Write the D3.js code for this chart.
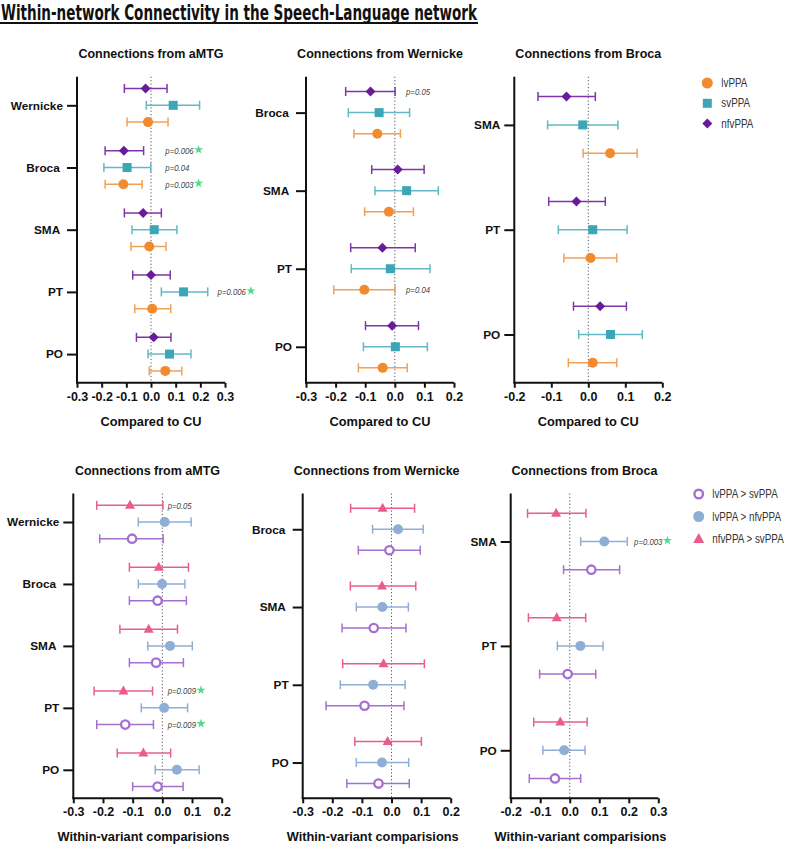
<!DOCTYPE html>
<html><head><meta charset="utf-8">
<script src="https://cdn.jsdelivr.net/npm/d3@7"></script>
<style>
body{margin:0;background:#fff;}
svg{display:block;}
text{font-family:"Liberation Sans",Arial,sans-serif;}
</style></head>
<body><svg id="c" width="788" height="846"></svg>
<script>
// ---------- DATA ----------
const topSeries = ["lvPPA","svPPA","nfvPPA"];
const bottomSeries = ["lvPPA > svPPA","lvPPA > nfvPPA","nfvPPA > svPPA"];

const aMTG_cats = ["Wernicke","Broca ","SMA ","PT","PO"];
const wern_cats = ["Broca ","SMA ","PT","PO"];
const broca_cats = ["SMA","PT","PO"];

// each entry: [mean, lower, upper]
const top_aMTG_lvPPA  = [[-0.012,-0.097,0.069],[-0.112,-0.186,-0.036],[-0.007,-0.081,0.061],[0.005,-0.066,0.080],[0.058,-0.007,0.125]];
const top_aMTG_svPPA  = [[0.090,-0.019,0.197],[-0.097,-0.191,-0.001],[0.013,-0.077,0.105],[0.132,0.042,0.230],[0.075,-0.012,0.162]];
const top_aMTG_nfvPPA = [[-0.022,-0.108,0.065],[-0.110,-0.186,-0.030],[-0.032,-0.108,0.042],[0.000,-0.074,0.078],[0.011,-0.059,0.081]];

const top_wern_lvPPA  = [[-0.059,-0.138,0.019],[-0.020,-0.102,0.063],[-0.103,-0.206,0.001],[-0.041,-0.123,0.042]];
const top_wern_svPPA  = [[-0.053,-0.157,0.050],[0.040,-0.067,0.147],[-0.015,-0.147,0.119],[0.002,-0.106,0.110]];
const top_wern_nfvPPA = [[-0.082,-0.166,0.001],[0.010,-0.078,0.099],[-0.042,-0.149,0.069],[-0.009,-0.099,0.080]];

const top_broca_lvPPA  = [[0.059,-0.014,0.132],[0.006,-0.066,0.077],[0.012,-0.054,0.077]];
const top_broca_svPPA  = [[-0.015,-0.110,0.080],[0.012,-0.081,0.105],[0.060,-0.026,0.146]];
const top_broca_nfvPPA = [[-0.059,-0.136,0.019],[-0.032,-0.107,0.046],[0.032,-0.040,0.103]];

const bot_aMTG_lv_sv  = [[-0.102,-0.211,0.003],[-0.016,-0.111,0.081],[-0.021,-0.111,0.071],[-0.125,-0.221,-0.030],[-0.016,-0.100,0.070]];
const bot_aMTG_lv_nfv = [[0.008,-0.081,0.097],[-0.001,-0.081,0.076],[0.026,-0.049,0.101],[0.006,-0.071,0.085],[0.049,-0.024,0.124]];
const bot_aMTG_nfv_sv = [[-0.109,-0.221,0.002],[-0.012,-0.111,0.088],[-0.046,-0.143,0.051],[-0.131,-0.230,-0.033],[-0.064,-0.152,0.028]];

const bot_wern_lv_sv  = [[-0.007,-0.112,0.097],[-0.060,-0.167,0.049],[-0.091,-0.221,0.042],[-0.044,-0.151,0.060]];
const bot_wern_lv_nfv = [[0.022,-0.064,0.107],[-0.031,-0.119,0.057],[-0.062,-0.173,0.046],[-0.032,-0.119,0.058]];
const bot_wern_nfv_sv = [[-0.030,-0.138,0.078],[-0.032,-0.139,0.082],[-0.027,-0.165,0.111],[-0.013,-0.124,0.101]];

const bot_broca_lv_sv  = [[0.073,-0.021,0.169],[-0.007,-0.102,0.088],[-0.050,-0.137,0.037]];
const bot_broca_lv_nfv = [[0.117,0.037,0.195],[0.036,-0.042,0.113],[-0.019,-0.091,0.052]];
const bot_broca_nfv_sv = [[-0.046,-0.143,0.055],[-0.044,-0.140,0.054],[-0.032,-0.122,0.059]];

const ticksA = [-0.3,-0.2,-0.1,0.0,0.1,0.2,0.3];
const ticksB = [-0.3,-0.2,-0.1,0.0,0.1,0.2];
const ticksC = [-0.2,-0.1,0.0,0.1,0.2];
const ticksD = [-0.2,-0.1,0.0,0.1,0.2,0.3];

// annotations: [category index, series index, text, star, x (data units)]
const ann_top_aMTG = [[1,2,"p=0.006",true,0.058],[1,1,"p=0.04",false,0.058],[1,0,"p=0.003",true,0.058],[3,1,"p=0.006",true,0.27]];
const ann_top_wern = [[0,2,"p=0.05",false,0.038],[2,0,"p=0.04",false,0.038]];
const ann_bot_aMTG = [[0,2,"p=0.05",false,0.018],[3,2,"p=0.009",true,0.018],[3,0,"p=0.009",true,0.018]];
const ann_bot_broca = [[0,1,"p=0.003",true,0.218]];

// ---------- STYLE ----------
const topColors = ["#F28A30","#3BA6B6","#6A1B9A"];
const topErrColors = ["#F3A057","#62B9C6","#7E34AA"];
const botColors = ["#A46FCF","#8FAED6","#EA5C90"];
const starColor = "#4FD98A";

const svg = d3.select("#c");

// narrow text: drawn inside a horizontally scaled group (Arial Narrow look)
function narrowText(parent, x, y, str, size, f, styleFn){
  const g = parent.append("g").attr("transform",`translate(${x},${y}) scale(${f},1)`);
  const t = g.append("text").attr("x",0).attr("y",0).style("font-size",size+"px").text(str);
  if(styleFn) styleFn(t);
  return t.node().getComputedTextLength()*f;
}

// Title
svg.append("text").attr("x",1).attr("y",20)
  .attr("textLength",476).attr("lengthAdjust","spacingAndGlyphs")
  .style("font-family","'DejaVu Sans Condensed','Liberation Sans',sans-serif")
  .style("font-weight","bold").style("font-size","22px").attr("fill","#111")
  .text("Within-network Connectivity in the Speech-Language network");
svg.append("rect").attr("x",0).attr("y",22).attr("width",478).attr("height",2).attr("fill","#111");

function drawPanel(cfg){
  const g = svg.append("g");
  const x = d3.scaleLinear().domain(cfg.domain).range(cfg.xr);
  const y = d3.scalePoint().domain(d3.range(cfg.cats.length)).range([cfg.top,cfg.bottom]).padding(0.46);
  const step = y.step();
  const off = [0.27*step, 0, -0.27*step]; // series order: index 0 bottom, 1 middle, 2 top

  // title
  g.append("text").attr("x",(cfg.xr[0]+cfg.xr[1])/2).attr("y",cfg.top-19)
    .attr("text-anchor","middle").style("font-weight","bold").style("font-size","12.5px").attr("fill","#111")
    .text(cfg.title);
  // dotted zero line
  g.append("line").attr("x1",x(0)).attr("x2",x(0)).attr("y1",cfg.top).attr("y2",cfg.bottom)
    .attr("stroke","#555").attr("stroke-width",1).attr("stroke-dasharray","1.2,2.2");

  // error bars + markers
  cfg.series.forEach((ser,si)=>{
    ser.forEach((d,ci)=>{
      const cy = y(ci)+off[si];
      const col = cfg.colors[si], ecol = cfg.errColors[si];
      g.append("line").attr("x1",x(d[1])).attr("x2",x(d[2])).attr("y1",cy).attr("y2",cy)
        .attr("stroke",ecol).attr("stroke-width",1.5);
      [d[1],d[2]].forEach(v=>{
        g.append("line").attr("x1",x(v)).attr("x2",x(v)).attr("y1",cy-4.5).attr("y2",cy+4.5)
          .attr("stroke",ecol).attr("stroke-width",1.5);
      });
      const mk = cfg.markers[si];
      const cx = x(d[0]);
      if(mk==="circle"){
        g.append("circle").attr("cx",cx).attr("cy",cy).attr("r",5).attr("fill",col);
      } else if(mk==="square"){
        g.append("rect").attr("x",cx-4.5).attr("y",cy-4.5).attr("width",9).attr("height",9).attr("fill",col);
      } else if(mk==="diamond"){
        g.append("path").attr("d",`M${cx},${cy-5}L${cx+5},${cy}L${cx},${cy+5}L${cx-5},${cy}Z`).attr("fill",col);
      } else if(mk==="open"){
        g.append("circle").attr("cx",cx).attr("cy",cy).attr("r",4.2).attr("fill","#fff")
          .attr("stroke",col).attr("stroke-width",2.3);
      } else if(mk==="triangle"){
        g.append("path").attr("d",`M${cx},${cy-5.5}L${cx+5},${cy+3.5}L${cx-5},${cy+3.5}Z`).attr("fill",col);
      }
    });
  });

  // annotations
  (cfg.ann||[]).forEach(a=>{
    const cy = y(a[0])+off[a[1]];
    const w = narrowText(g, x(a[4]), cy+3.3, a[2], 9.5, 0.82,
      t=>t.style("font-style","italic").attr("fill","#444"));
    if(a[3]){
      g.append("path").attr("d",d3.symbol().type(d3.symbolStar).size(26)())
        .attr("transform",`translate(${x(a[4])+w+5},${cy-1})`).attr("fill",starColor);
    }
  });

  // axes
  const xa = g.append("g").attr("transform",`translate(0,${cfg.bottom})`)
    .call(d3.axisBottom(x).tickValues(cfg.ticks).tickFormat(d3.format(".1f")).tickSize(5).tickPadding(4).tickSizeOuter(0));
  xa.select(".domain").attr("stroke","#111").attr("stroke-width",2).attr("d",`M${cfg.xr[0]-1},0H${cfg.xr[1]}`);
  xa.selectAll(".tick line").attr("stroke","#111").attr("stroke-width",2);
  xa.selectAll(".tick text").style("font-weight","bold").style("font-size","12.5px").attr("fill","#111")
    .style("font-family","'Liberation Sans',Arial,sans-serif")
    .text(d=>d3.format(".1f")(d).replace("−","-"));

  const ya = g.append("g").attr("transform",`translate(${cfg.xr[0]},0)`)
    .call(d3.axisLeft(y).tickFormat(i=>cfg.cats[i]).tickSize(10).tickPadding(4).tickSizeOuter(0));
  ya.select(".domain").attr("stroke","#111").attr("stroke-width",2).attr("d",`M0,${cfg.top}V${cfg.bottom}`);
  ya.selectAll(".tick line").attr("stroke","#111").attr("stroke-width",2);
  ya.selectAll(".tick text").style("font-weight","bold").style("font-size","11.8px").attr("fill","#111")
    .style("font-family","'Liberation Sans',Arial,sans-serif").style("white-space","pre");

  // x label
  g.append("text").attr("x",(cfg.xr[0]+cfg.xr[1])/2 + (cfg.labelShift||0)).attr("y",cfg.bottom+43)
    .attr("text-anchor","middle").style("font-weight","bold").style("font-size","12.8px").attr("fill","#111")
    .text(cfg.xlabel);
}

const topMarkers = ["circle","square","diamond"];
const botMarkers = ["open","circle","triangle"];
const T = {top:76.7,bottom:382.7,colors:topColors,errColors:topErrColors,markers:topMarkers,xlabel:"Compared to CU"};
const B = {top:493.5,bottom:798.3,colors:botColors,errColors:botColors,markers:botMarkers,xlabel:"Within-variant comparisions",labelShift:-4};

drawPanel(Object.assign({},T,{title:"Connections from aMTG",cats:aMTG_cats,domain:[-0.3,0.3],xr:[77,225],ticks:ticksA,
  series:[top_aMTG_lvPPA,top_aMTG_svPPA,top_aMTG_nfvPPA],ann:ann_top_aMTG}));
drawPanel(Object.assign({},T,{title:"Connections from Wernicke",cats:wern_cats,domain:[-0.3,0.2],xr:[306,454],ticks:ticksB,
  series:[top_wern_lvPPA,top_wern_svPPA,top_wern_nfvPPA],ann:ann_top_wern}));
drawPanel(Object.assign({},T,{title:"Connections from Broca",cats:broca_cats,domain:[-0.2,0.2],xr:[514.3,662.3],ticks:ticksC,
  series:[top_broca_lvPPA,top_broca_svPPA,top_broca_nfvPPA]}));

drawPanel(Object.assign({},B,{title:"Connections from aMTG",cats:aMTG_cats,domain:[-0.3,0.2],xr:[73.3,221.7],ticks:ticksB,
  series:[bot_aMTG_lv_sv,bot_aMTG_lv_nfv,bot_aMTG_nfv_sv],ann:ann_bot_aMTG}));
drawPanel(Object.assign({},B,{title:"Connections from Wernicke",cats:wern_cats,domain:[-0.3,0.2],xr:[302.7,450.7],ticks:ticksB,
  series:[bot_wern_lv_sv,bot_wern_lv_nfv,bot_wern_nfv_sv]}));
drawPanel(Object.assign({},B,{title:"Connections from Broca",cats:broca_cats,domain:[-0.2,0.3],xr:[510.7,658.3],ticks:ticksD,
  series:[bot_broca_lv_sv,bot_broca_lv_nfv,bot_broca_nfv_sv],ann:ann_bot_broca}));

// legends
function legend(x0,y0,items,colors,markers,gap,tx){
  items.forEach((name,i)=>{
    const cy = y0+i*gap, cx = x0, col = colors[i], mk = markers[i];
    if(mk==="circle") svg.append("circle").attr("cx",cx).attr("cy",cy).attr("r",5.5).attr("fill",col);
    else if(mk==="square") svg.append("rect").attr("x",cx-4.5).attr("y",cy-4.5).attr("width",9).attr("height",9).attr("fill",col);
    else if(mk==="diamond") svg.append("path").attr("d",`M${cx},${cy-5}L${cx+5},${cy}L${cx},${cy+5}L${cx-5},${cy}Z`).attr("fill",col);
    else if(mk==="open") svg.append("circle").attr("cx",cx).attr("cy",cy).attr("r",4.3).attr("fill","#fff").attr("stroke",col).attr("stroke-width",2.4);
    else if(mk==="triangle") svg.append("path").attr("d",`M${cx},${cy-6}L${cx+5.5},${cy+4}L${cx-5.5},${cy+4}Z`).attr("fill",col);
    narrowText(svg, x0+tx, cy+4, name, 12, 0.82, t=>t.attr("fill","#333"));
  });
}
legend(707.3,83,topSeries,topColors,topMarkers,20.3,14);
// bottom legend order: lvPPA > svPPA, lvPPA > nfvPPA, nfvPPA > svPPA
legend(698.7,494,bottomSeries,botColors,botMarkers,22.5,13.5);
</script></body></html>
